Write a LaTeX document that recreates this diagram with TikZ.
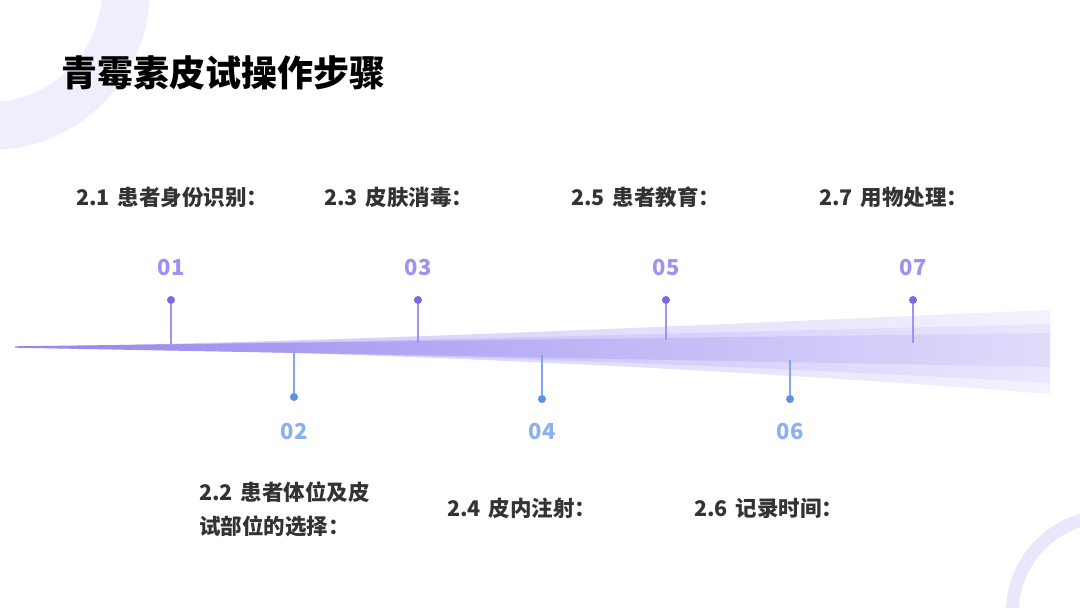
\documentclass[tikz,border=0pt]{standalone}
\usepackage{fontspec}
\newfontfamily\cjk{Noto Sans CJK SC}
\usetikzlibrary{positioning}
\definecolor{ringtop}{HTML}{EFEEFC}
\definecolor{ringbot}{HTML}{E8E7FB}
\definecolor{dotpurple}{HTML}{7A68E6}
\definecolor{dotblue}{HTML}{5E8EE6}
\definecolor{numpurple}{HTML}{A190F0}
\definecolor{numblue}{HTML}{8AB1EE}
\definecolor{stempurple}{HTML}{A193F1}
\definecolor{stemblue}{HTML}{7FA6EC}
\definecolor{textgray}{HTML}{333333}
\newcommand{\stepgap}{\hspace{8pt}}

\begin{document}
\begin{tikzpicture}[x=1pt, y=-1pt, every node/.style={inner sep=0pt, font=\cjk\bfseries},
  steptext/.style={anchor=west, text=textgray, align=left, font=\cjk\bfseries\fontsize{21.5}{34}\selectfont},
  dotup/.style={circle, fill=dotpurple, minimum size=8pt},
  dotdown/.style={circle, fill=dotblue, minimum size=8pt},
  numup/.style={text=numpurple, font=\cjk\bfseries\fontsize{22}{24}\selectfont},
  numdown/.style={text=numblue, font=\cjk\bfseries\fontsize{22}{24}\selectfont}]
\useasboundingbox (0,0) rectangle (1080,608);
\clip (0,0) rectangle (1080,608);

% background rings
\fill[ringtop, even odd rule] (-10,-10) circle[radius=160pt] (-10,-10) circle[radius=112pt];
\fill[ringbot, even odd rule] (1108,612) circle[radius=102pt] (1108,612) circle[radius=89pt];

% title
\node (title) [anchor=west, text=black, font=\cjk\bfseries\fontsize{36}{40}\selectfont] at (61,73) {青霉素皮试操作步骤};

% timeline band
\shade[left color={rgb,255:red,202;green,194;blue,248}, right color={rgb,255:red,244;green,242;blue,254}]
  (15,347) .. controls (400,341) and (800,320) .. (1050,310) -- (1050,394)
  .. controls (850,378) and (450,352) .. (15,347) -- cycle;
\shade[left color={rgb,255:red,178;green,167;blue,244}, right color={rgb,255:red,234;green,231;blue,253}]
  (15,347) .. controls (400,342) and (800,330) .. (1050,324) -- (1050,383)
  .. controls (800,368) and (400,352) .. (15,347) -- cycle;
\shade[left color={rgb,255:red,148;green,134;blue,239}, right color={rgb,255:red,224;green,220;blue,251}]
  (15,346.3) -- (1050,333) -- (1050,367) -- (15,347.7) -- cycle;

% markers above
\node (dot01) [dotup] at (171,300) {};
\node (dot03) [dotup] at (418,300) {};
\node (dot05) [dotup] at (666,300) {};
\node (dot07) [dotup] at (913,300) {};
\coordinate (band01) at (171,345);
\coordinate (band03) at (418,343);
\coordinate (band05) at (666,340);
\coordinate (band07) at (913,343);
\draw[stempurple, line width=1.2pt] (dot01) -- (band01);
\draw[stempurple, line width=1.2pt] (dot03) -- (band03);
\draw[stempurple, line width=1.2pt] (dot05) -- (band05);
\draw[stempurple, line width=1.2pt] (dot07) -- (band07);
\node (num01) [numup, above=20pt of dot01] {01};
\node (num03) [numup, above=20pt of dot03] {03};
\node (num05) [numup, above=20pt of dot05] {05};
\node (num07) [numup, above=20pt of dot07] {07};

% markers below
\node (dot02) [dotdown] at (294,397) {};
\node (dot04) [dotdown] at (542,399) {};
\node (dot06) [dotdown] at (790,399) {};
\coordinate (band02) at (294,350);
\coordinate (band04) at (542,355);
\coordinate (band06) at (790,360);
\draw[stemblue, line width=1.2pt] (band02) -- (dot02);
\draw[stemblue, line width=1.2pt] (band04) -- (dot04);
\draw[stemblue, line width=1.2pt] (band06) -- (dot06);
\node (num02) [numdown, below=22pt of dot02] {02};
\node (num04) [numdown, below=20pt of dot04] {04};
\node (num06) [numdown, below=20pt of dot06] {06};

% step texts
\node (step1) [steptext] at (76,197) {2.1\stepgap 患者身份识别：};
\node (step3) [steptext] at (324,197) {2.3\stepgap 皮肤消毒：};
\node (step5) [steptext] at (571,197) {2.5\stepgap 患者教育：};
\node (step7) [steptext] at (819,197) {2.7\stepgap 用物处理：};
\node (step2) [steptext] at (199,509) {2.2\stepgap 患者体位及皮\\试部位的选择：};
\node (step4) [steptext] at (447,508) {2.4\stepgap 皮内注射：};
\node (step6) [steptext] at (694,508) {2.6\stepgap 记录时间：};
\end{tikzpicture}
\end{document}
